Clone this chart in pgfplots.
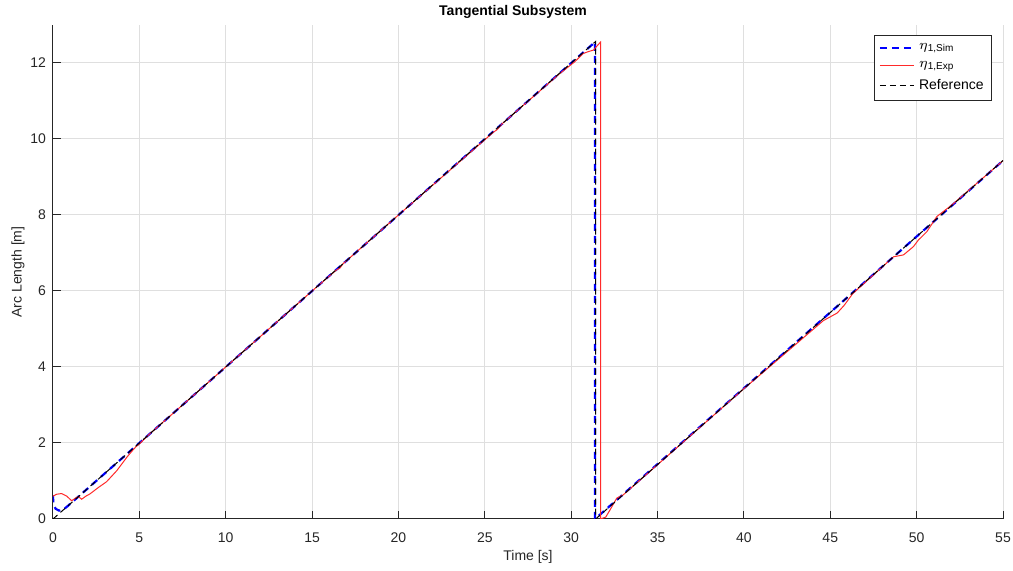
\documentclass[border=0pt]{standalone}
\usepackage{fontspec}
\setmainfont{Liberation Sans}
\usepackage{pgfplots}
\pgfplotsset{compat=1.18}
\definecolor{mlGrid}{HTML}{DFDFDF}
\definecolor{mlAxis}{HTML}{262626}
\definecolor{mlRed}{HTML}{FF2A2A}
\begin{document}
\begin{tikzpicture}
\path[use as bounding box] (-26.5pt,-26pt) rectangle (480pt,259.5pt);
\begin{axis}[
  at={(0,0)}, anchor=south west,
  scale only axis, width=475pt, height=247pt,
  font=\fontsize{7}{8}\selectfont,
  /pgf/number format/assume math mode=true,
  xmin=0, xmax=55, ymin=0, ymax=13,
  xtick={0,5,...,55}, ytick={0,2,...,12},
  axis x line*=bottom, axis y line*=left,
  axis line style={mlAxis,line width=0.5pt},
  tick style={mlAxis,line width=0.5pt}, tick align=inside,
  major tick length=4pt,
  tick label style={text=mlAxis},
  xticklabel style={yshift=-3.5pt},
  grid=major, grid style={mlGrid,line width=0.5pt},
  xlabel={Time [s]}, ylabel={Arc Length [m]},
  xlabel style={text=mlAxis,at={(0.5,0)},anchor=center,yshift=-19pt},
  ylabel style={text=mlAxis,yshift=-4pt},
  title={\bfseries Tangential Subsystem},
  title style={at={(0.5,1)},anchor=center,yshift=0.5pt,xshift=-7.5pt},
  legend style={at={(0.9885,0.98)},anchor=north east,draw=mlAxis,
    font=\fontsize{7}{8}\selectfont,row sep=0.5pt,inner sep=2pt,
    line width=0.4pt},
  legend cell align=left,
  legend image post style={xscale=1.0}
]
\addplot[blue,line width=1.1pt,dash pattern=on 3.5pt off 2.5pt] coordinates {
(0,0.62)(0.02,0.40)(0.15,0.27)(0.35,0.22)(0.6,0.25)(0.8,0.32)
(31.38,12.55)(31.38,0)(55,9.43)};
\addlegendentry{$\eta$\textsubscript{1,Sim}}
\addplot[mlRed,line width=0.5pt] coordinates {
(0,0.6)(0.2,0.65)(0.5,0.67)(0.8,0.6)(1.08,0.48)(1.3,0.55)(1.47,0.59)
(1.66,0.52)(1.9,0.6)(2.14,0.66)(2.6,0.82)(3.1,0.98)(3.69,1.27)(4.07,1.5)
(4.3,1.64)(4.6,1.8)(4.8,1.9)(5.04,1.99)(5.5,2.2)(10,4.0)(15,6.0)
(16.4,6.55)(16.6,6.6)(16.8,6.72)(20,8.0)(25.3,10.1)(25.5,10.18)(25.7,10.24)
(26,10.4)(29.36,11.73)(30.2,12.03)(30.7,12.25)(31.0,12.3)(31.29,12.34)
(31.5,12.45)(31.7,12.55)(31.7,0)(32.0,0.05)(32.25,0.24)(32.64,0.55)
(33,0.63)(35,1.43)(40,3.43)(44.6,5.22)(45.0,5.32)(45.4,5.42)(45.8,5.62)
(46.3,5.93)(48.66,6.9)(49.24,6.95)(49.82,7.17)(50.1,7.34)(50.59,7.56)
(50.78,7.69)(51.17,7.96)(52,8.25)(55,9.43)};
\addlegendentry{$\eta$\textsubscript{1,Exp}}
\addplot[black,line width=0.5pt,dash pattern=on 3pt off 2pt] coordinates {
(0,0)(31.416,12.566)(31.416,0)(55,9.434)};
\addlegendentry{Reference}
\end{axis}
\end{tikzpicture}
\end{document}
